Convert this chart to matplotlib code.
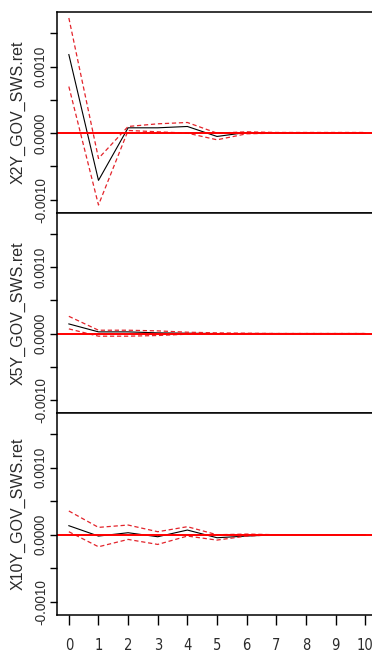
import matplotlib
matplotlib.use("Agg")
import matplotlib.pyplot as plt
from matplotlib import font_manager

# Impulse responses (orthogonalised) with bootstrap bands, horizons 0..10
horizon = [0, 1, 2, 3, 4, 5, 6, 7, 8, 9, 10]

series_names = ["X2Y_GOV_SWS.ret", "X5Y_GOV_SWS.ret", "X10Y_GOV_SWS.ret"]

irf_x2y = [0.00118, -0.00071, 0.00008, 0.00008, 0.00010, -0.00005, 0.00001, 0.000005, 0.000005, 0.0, 0.0]
lower_x2y = [0.00070, -0.00108, 0.00004, 0.00002, 0.00000, -0.00010, -0.00001, 0.0, 0.0, 0.0, 0.0]
upper_x2y = [0.00173, -0.00038, 0.00010, 0.00014, 0.00016, 0.00000, 0.00002, 0.00001, 0.00001, 0.00001, 0.00001]

irf_x5y = [0.000145, 0.000025, 0.000025, 0.00001, 0.000005, 0.0, 0.0, 0.0, 0.0, 0.0, 0.0]
lower_x5y = [0.00007, -0.00004, -0.00004, -0.00003, -0.00001, -0.000005, 0.0, 0.0, 0.0, 0.0, 0.0]
upper_x5y = [0.00026, 0.00005, 0.00005, 0.00004, 0.00002, 0.00001, 0.000005, 0.0, 0.0, 0.0, 0.0]

irf_x10y = [0.000135, -0.00002, 0.00003, -0.00003, 0.00007, -0.000045, -0.00002, 0.0, 0.0, 0.0, 0.0]
lower_x10y = [0.000045, -0.00018, -0.00007, -0.000145, -0.00002, -0.00008, -0.00002, 0.0, 0.0, 0.0, 0.0]
upper_x10y = [0.000355, 0.00011, 0.000145, 0.000045, 0.00012, 0.0, 0.00001, 0.0, 0.0, 0.0, 0.0]

irfs = [irf_x2y, irf_x5y, irf_x10y]
lowers = [lower_x2y, lower_x5y, lower_x10y]
uppers = [upper_x2y, upper_x5y, upper_x10y]

y_ticks = [-0.0010, -0.0005, 0.0, 0.0005, 0.0010, 0.0015]
y_tick_labels = ["-0.0010", "", "0.0000", "", "0.0010", ""]
x_tick_labels = [str(h) for h in horizon]

text_color = "#2b2b2b"
band_color = "#e3242b"

# Pick a narrow, regular-weight face for the horizon labels
x_font = dict(family="Liberation Sans", fontsize=9.5)
names = {f.name for f in font_manager.fontManager.ttflist}
if "Liberation Sans Narrow" in names:
    x_font = dict(fontproperties=font_manager.FontProperties(
        family="Liberation Sans Narrow", weight="normal", style="normal", size=10.5))
else:
    for f in font_manager.fontManager.ttflist:
        if (f.name == "DejaVu Sans" and str(f.stretch) in ("condensed", "semi-condensed")
                and f.weight in (400, "normal", "regular", "book") and f.style == "normal"):
            x_font = dict(fontproperties=font_manager.FontProperties(
                fname=f.fname, size=10.5))
            break

fig = plt.figure(figsize=(3.72, 6.52), dpi=100)
W, H = 372.0, 652.0
left_px, right_px = 57.0, 377.0
panel_px = [(12.0, 213.0), (213.0, 413.0), (413.0, 615.0)]

for i, (top, bottom) in enumerate(panel_px):
    ax = fig.add_axes([left_px / W, 1 - bottom / H,
                       (right_px - left_px) / W, (bottom - top) / H])
    ax.plot(horizon, irfs[i], color="black", lw=0.8)
    ax.plot(horizon, uppers[i], color=band_color, lw=0.9, dashes=(3.4, 2.2))
    ax.plot(horizon, lowers[i], color=band_color, lw=0.9, dashes=(3.4, 2.2))
    ax.axhline(0.0, color="red", lw=1.4)

    ax.set_xlim(-0.4, 10.4)
    ax.set_ylim(-0.0012, 0.00182)

    ax.set_yticks(y_ticks, y_tick_labels, rotation=90, va="center",
                  family="Liberation Sans", fontsize=9.8, color=text_color)
    ax.tick_params(axis="y", length=5, width=1, pad=1.5, color="black")

    for sp in ax.spines.values():
        sp.set_linewidth(1.1)
        sp.set_color("black")

    if i < 2:
        ax.set_xticks([])
    else:
        ax.set_xticks(horizon, x_tick_labels, color=text_color, **x_font)
        ax.tick_params(axis="x", length=7.2, width=1, pad=9, color="black")

    fig.text(18.0 / W, 1 - (top + bottom) / 2 / H, series_names[i],
             rotation=90, ha="center", va="center", family="Liberation Sans",
             fontsize=11.5, color=text_color)

fig.savefig("out.png", dpi=100)
